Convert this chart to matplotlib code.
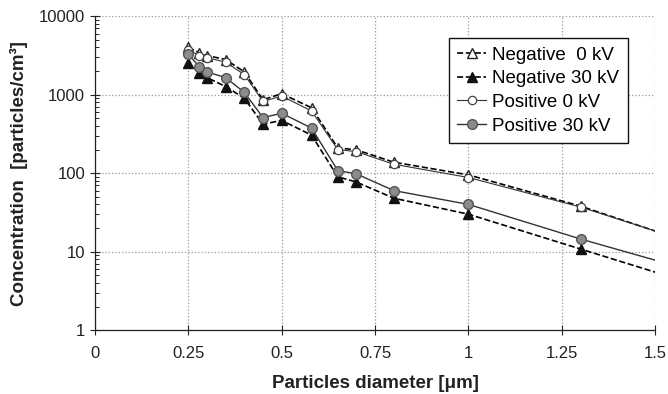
"""
Particle concentration vs diameter, negative / positive corona at 0 and 30 kV
"""

import matplotlib.pyplot as plt
from matplotlib.ticker import LogLocator, NullFormatter

plt.rcParams["font.family"] = ["Liberation Sans", "DejaVu Sans"]

# particle diameter [um]; the last point lies past the axis and is clipped
diameter = [0.25, 0.28, 0.30, 0.35, 0.40, 0.45, 0.50, 0.58, 0.65, 0.70, 0.80, 1.0, 1.3, 1.6]

neg_0kv = [4000, 3400, 3150, 2800, 1950, 860, 1030, 680, 210, 198, 138, 95, 38, 12.7]
neg_30kv = [2550, 1900, 1650, 1270, 900, 420, 470, 305, 90, 77, 48, 30, 10.8, 3.9]
pos_0kv = [3700, 3150, 2950, 2600, 1800, 820, 960, 620, 200, 188, 130, 88, 37, 12.9]
pos_30kv = [3300, 2250, 1950, 1650, 1070, 510, 580, 375, 108, 98, 60, 40, 14.5, 5.7]

x_ticks = [0, 0.25, 0.5, 0.75, 1, 1.25, 1.5]
x_tick_labels = ["0", "0.25", "0.5", "0.75", "1", "1.25", "1.5"]
y_ticks = [1, 10, 100, 1000, 10000]
y_tick_labels = ["1", "10", "100", "1000", "10000"]


def main():
    fig = plt.figure(figsize=(6.68, 3.94), dpi=100)
    ax = fig.add_axes([0.142, 0.162, 0.839, 0.797])

    ax.plot(diameter, neg_0kv, "k--", lw=1.2, marker="^", ms=7,
            mfc="white", mec="#222222", mew=1.0, label="Negative  0 kV")
    ax.plot(diameter, neg_30kv, "k--", lw=1.2, marker="^", ms=7,
            mfc="#111111", mec="#111111", label="Negative 30 kV")
    ax.plot(diameter, pos_0kv, color="#333333", ls="-", lw=0.8, marker="o", ms=6,
            mfc="white", mec="#444444", mew=0.9, label="Positive 0 kV")
    ax.plot(diameter, pos_30kv, color="#333333", ls="-", lw=1.0, marker="o", ms=7,
            mfc="#8c8c8c", mec="#555555", mew=1.0, label="Positive 30 kV")

    ax.set_yscale("log")
    ax.set_xlim(0, 1.5)
    ax.set_ylim(1, 10000)
    ax.set_xticks(x_ticks)
    ax.set_xticklabels(x_tick_labels)
    ax.set_yticks(y_ticks)
    ax.set_yticklabels(y_tick_labels)
    ax.yaxis.set_minor_locator(LogLocator(base=10, subs=range(2, 10)))
    ax.yaxis.set_minor_formatter(NullFormatter())
    ax.tick_params(axis="both", which="major", direction="inout", length=7,
                   width=0.8, labelsize=12, colors="#222222")
    ax.tick_params(axis="x", which="major", pad=8)
    ax.tick_params(axis="y", which="minor", direction="in", length=3, width=0.6)

    ax.grid(True, which="major", color="#999999", ls=":", lw=0.9)
    for side in ["top", "right"]:
        ax.spines[side].set_visible(False)
    for side in ["left", "bottom"]:
        ax.spines[side].set_color("#222222")
        ax.spines[side].set_linewidth(0.9)

    ax.set_xlabel("Particles diameter [\u03bcm]", fontsize=13.5, fontweight="bold",
                  color="#222222", labelpad=10)
    ax.set_ylabel("Concentration  [particles/cm\u00b3]", fontsize=13.5,
                  fontweight="bold", color="#222222", labelpad=8)

    leg = ax.legend(loc="upper left", bbox_to_anchor=(449 / 668, 1 - 38 / 394),
                    bbox_transform=fig.transFigure, fontsize=13.5, handlelength=1.5,
                    handletextpad=0.35, borderpad=0.45, labelspacing=0.35,
                    borderaxespad=0, fancybox=False, framealpha=1, edgecolor="#111111")
    leg.get_frame().set_linewidth(1.0)

    fig.savefig("out.png", dpi=100)
    plt.close(fig)


if __name__ == "__main__":
    main()
